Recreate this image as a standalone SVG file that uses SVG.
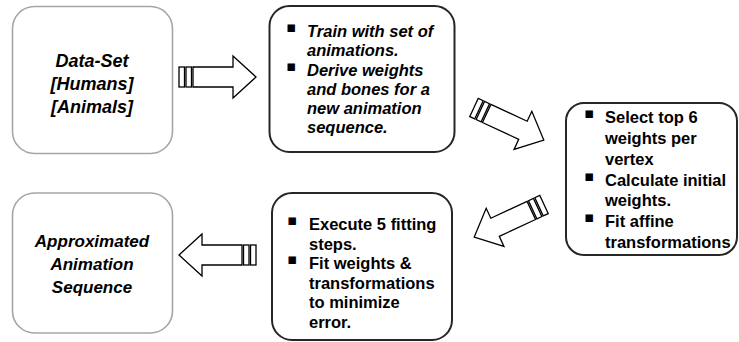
<svg xmlns="http://www.w3.org/2000/svg" width="739" height="342" viewBox="0 0 739 342">
<defs>
<style>
.soft{fill:#ffffff;stroke:#a6a6a6;stroke-width:1.6}
.hard{fill:#ffffff;stroke:#262626;stroke-width:2}
.ti{font-family:"Liberation Sans",Arial,sans-serif;font-weight:bold;font-style:italic;fill:#000;text-anchor:middle}
.bi{font-family:"Liberation Sans",Arial,sans-serif;font-weight:bold;font-style:italic;font-size:16.5px;fill:#000}
.b{font-family:"Liberation Sans",Arial,sans-serif;font-weight:bold;font-size:16.5px;fill:#000}
.bul{font-family:"DejaVu Sans",sans-serif;font-weight:normal;font-style:normal;font-size:15px;fill:#000}
.arr{fill:#ffffff;stroke:#000;stroke-width:1.3;stroke-linejoin:miter}
</style>
<g id="arrowShape">
<rect class="arr" x="0" y="-10" width="5.5" height="20"/>
<rect class="arr" x="7" y="-10" width="5.5" height="20"/>
<polygon class="arr" points="14,-10 54,-10 54,-21 77,0 54,21 54,10 14,10"/>
</g>
</defs>
<rect width="739" height="342" fill="#ffffff"/>

<g id="connectors">
<use href="#arrowShape" transform="translate(179,77)"/>
<use href="#arrowShape" transform="translate(474,107.5) rotate(25)"/>
<use href="#arrowShape" transform="translate(544,204.5) rotate(155)"/>
<use href="#arrowShape" transform="translate(256,255) rotate(180)"/>
</g>

<g id="dataset">
<rect class="soft" x="12.5" y="6.5" width="160" height="147" rx="22"/>
<text class="ti" font-size="18" x="92" y="67">Data-Set</text>
<text class="ti" font-size="18" x="92" y="90">[Humans]</text>
<text class="ti" font-size="18" x="92" y="113">[Animals]</text>
</g>

<g id="train">
<rect class="hard" x="269.5" y="6" width="185" height="146" rx="20"/>
<text class="bul" x="286" y="32">▪</text>
<text class="bi" x="307" y="37">Train with set of</text>
<text class="bi" x="307" y="56">animations.</text>
<text class="bul" x="286" y="71">▪</text>
<text class="bi" x="307" y="76">Derive weights</text>
<text class="bi" x="307" y="95">and bones for a</text>
<text class="bi" x="307" y="114">new animation</text>
<text class="bi" x="307" y="133">sequence.</text>
</g>

<g id="select">
<rect class="hard" x="566" y="103" width="171" height="152" rx="18"/>
<text class="bul" x="584" y="118">▪</text>
<text class="b" x="605" y="123">Select top 6</text>
<text class="b" x="605" y="144">weights per</text>
<text class="b" x="605" y="165">vertex</text>
<text class="bul" x="584" y="181">▪</text>
<text class="b" x="605" y="186">Calculate initial</text>
<text class="b" x="605" y="206">weights.</text>
<text class="bul" x="584" y="222">▪</text>
<text class="b" x="605" y="227">Fit affine</text>
<text class="b" x="605" y="248">transformations</text>
</g>

<g id="execute">
<rect class="hard" x="272" y="193" width="180" height="147" rx="20"/>
<text class="bul" x="287" y="225">▪</text>
<text class="b" x="309" y="230">Execute 5 fitting</text>
<text class="b" x="309" y="250">steps.</text>
<text class="bul" x="287" y="264">▪</text>
<text class="b" x="309" y="269">Fit weights &amp;</text>
<text class="b" x="309" y="289">transformations</text>
<text class="b" x="309" y="308">to minimize</text>
<text class="b" x="309" y="328">error.</text>
</g>

<g id="approx">
<rect class="soft" x="12.5" y="193" width="160" height="140" rx="22"/>
<text class="ti" font-size="17" x="92" y="247">Approximated</text>
<text class="ti" font-size="17" x="92" y="270">Animation</text>
<text class="ti" font-size="17" x="92" y="293">Sequence</text>
</g>
</svg>
